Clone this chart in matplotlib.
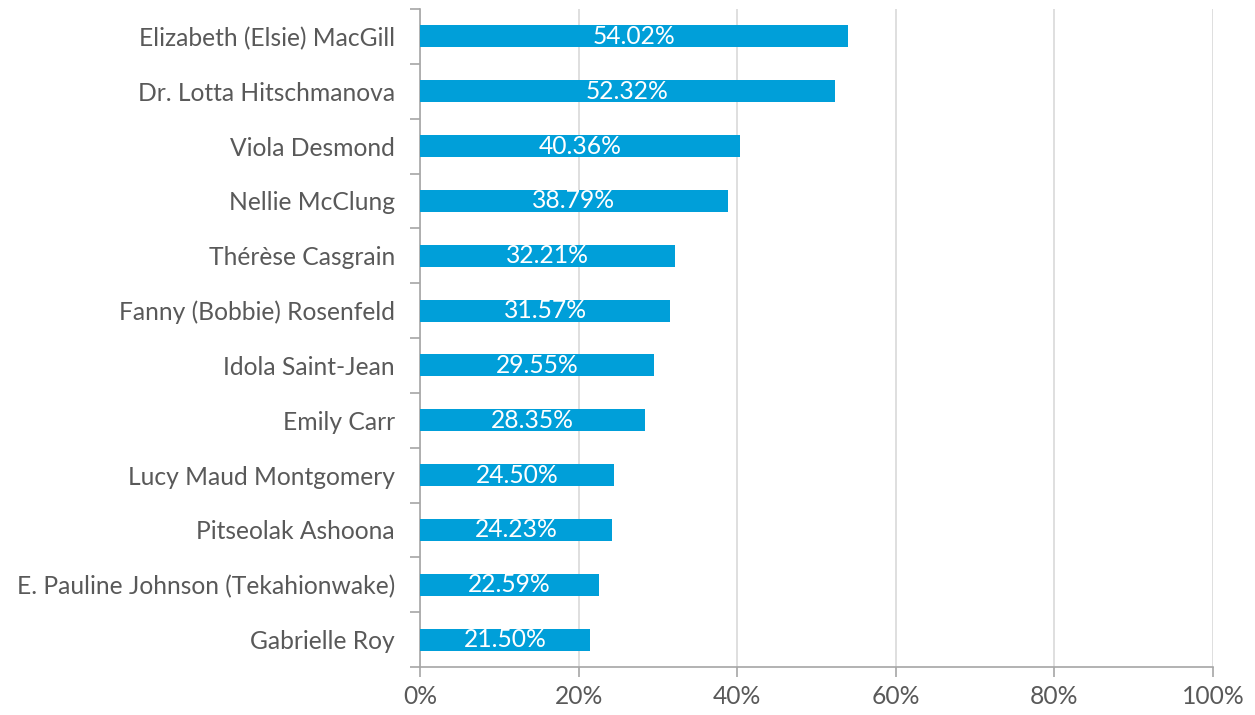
import matplotlib
matplotlib.use("Agg")
import matplotlib.pyplot as plt
from matplotlib.ticker import FixedLocator, PercentFormatter

names = ["Elizabeth (Elsie) MacGill", "Dr. Lotta Hitschmanova", "Viola Desmond",
         "Nellie McClung", "Thérèse Casgrain", "Fanny (Bobbie) Rosenfeld",
         "Idola Saint-Jean", "Emily Carr", "Lucy Maud Montgomery",
         "Pitseolak Ashoona", "E. Pauline Johnson (Tekahionwake)", "Gabrielle Roy"]
values = [54.02, 52.32, 40.36, 38.79, 32.21, 31.57, 29.55, 28.35, 24.50, 24.23, 22.59, 21.50]
xticks = [0, 20, 40, 60, 80, 100]

plt.rcParams['font.family'] = ['Lato', 'DejaVu Sans']
text_color = '#595959'
bar_color = '#009FD9'
fs = 17.7

fig = plt.figure(figsize=(12.55, 7.15), dpi=100)
ax = fig.add_axes([420/1255, 1-667/715, (1213-420)/1255, (667-9)/715])

n = len(names)
ypos = list(range(n))[::-1]
bars = ax.barh(ypos, values, height=0.4, color=bar_color, zorder=3)
for b, v in zip(bars, values):
    ax.text(b.get_width()/2, b.get_y()+b.get_height()/2, f"{v:.2f}%",
            ha='center', va='center', color='white', fontsize=fs, zorder=4)

ax.set_xlim(0, 100)
ax.set_ylim(-0.5, n-0.5)
ax.xaxis.set_major_locator(FixedLocator(xticks))
ax.xaxis.set_major_formatter(PercentFormatter(decimals=0))
ax.set_yticks(ypos)
ax.set_yticklabels(names)
ax.set_yticks([i - 0.5 for i in range(n+1)], minor=True)
ax.tick_params(axis='y', which='major', length=0, pad=18, labelsize=fs, labelcolor=text_color)
ax.tick_params(axis='y', which='minor', length=7, color='#A6A6A6', width=1.2)
ax.tick_params(axis='x', which='major', length=7, color='#A6A6A6', width=1.2,
               labelsize=fs, labelcolor=text_color, pad=6)
ax.grid(axis='x', color='#D9D9D9', linewidth=1.2, zorder=0)
for s in ['top', 'right']:
    ax.spines[s].set_visible(False)
for s in ['left', 'bottom']:
    ax.spines[s].set_color('#A6A6A6')
    ax.spines[s].set_linewidth(1.2)

fig.savefig("out.png", dpi=100)
